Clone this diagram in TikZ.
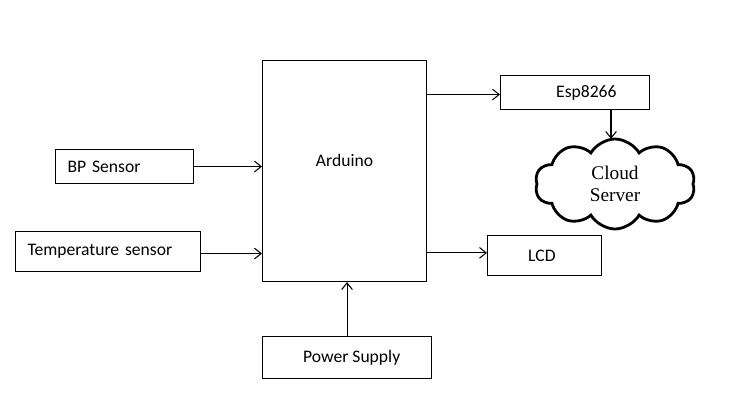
\documentclass[tikz,border=0pt]{standalone}
\usepackage{fontspec}
\setmainfont{Carlito}
\newfontfamily\cloudfont{Liberation Serif}
\usetikzlibrary{shapes.symbols,arrows.meta}
\begin{document}
\begin{tikzpicture}[x=0.75pt,y=-0.75pt,
  box/.style={draw, line width=0.8pt, anchor=north west, inner sep=0pt,
    font=\fontsize{13.2}{15}\selectfont},
  lbl/.style={font=\fontsize{13.2}{15}\selectfont},
  arr/.style={line width=0.8pt, -{Straight Barb[length=5pt,width=8pt]}}]
\useasboundingbox (0,0) rectangle (738,418);
\node[box, minimum width=164*0.75pt, minimum height=221*0.75pt,
  label={[yshift=8pt,lbl]center:Arduino}] (ard) at (262,60) {};
\node[box, minimum width=138*0.75pt, minimum height=34*0.75pt,
  text width=114*0.75pt, inner xsep=9pt, align=left] (bp) at (55,149) {BP Sensor};
\node[box, minimum width=185*0.75pt, minimum height=40*0.75pt,
  text width=161*0.75pt, inner xsep=9pt, align=left] (temp) at (15,231) {Temperature sensor};
\node[box, minimum width=169*0.75pt, minimum height=42*0.75pt] (pw) at (262,336) {\hspace*{7pt}Power Supply};
\node[box, minimum width=149*0.75pt, minimum height=34*0.75pt,
  label={[xshift=8.5pt,lbl]center:Esp8266}] (esp) at (500,75) {};
\node[box, minimum width=114*0.75pt, minimum height=40*0.75pt] (lcd) at (487,235) {\hspace*{-4pt}LCD};
\node[cloud, draw, line width=2.1pt, cloud puffs=10, cloud puff arc=120, aspect=1.8,
  minimum width=160*0.75pt, minimum height=90*0.75pt, align=center,
  font=\cloudfont\fontsize{14.5}{17}\selectfont] (cloud) at (615,184) {Cloud\\Server};
\draw[arr] (bp.east) -- (bp.east -| ard.west);
\draw[arr] ([yshift=-1.5pt]temp.east) -- ([yshift=-1.5pt]temp.east -| ard.west);
\draw[arr] (pw.north) -- (pw.north |- ard.south);
\draw[arr] ([yshift=-1.5pt]ard.east |- esp.west) -- ([yshift=-1.5pt]esp.west);
\draw[arr] ([yshift=2pt]ard.east |- lcd.west) -- ([yshift=2pt]lcd.west);
\draw[arr] ([xshift=-3pt]esp.south -| cloud.north) -- ([xshift=-3pt,yshift=-1pt]cloud.north);
\end{tikzpicture}
\end{document}
